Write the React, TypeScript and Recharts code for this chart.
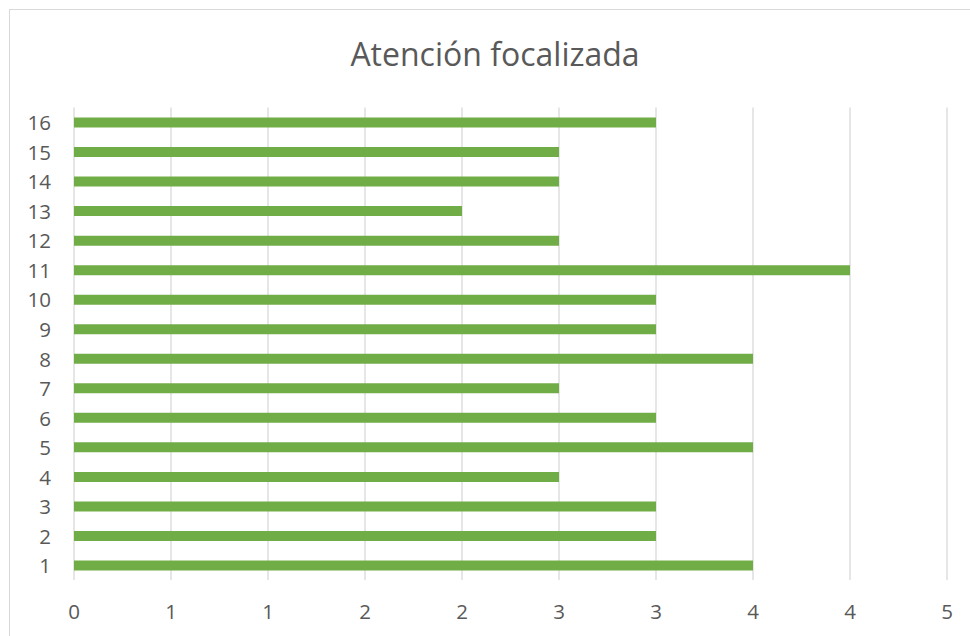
import { Bar, BarChart, CartesianGrid, XAxis, YAxis } from "recharts";

const categories = ["1", "2", "3", "4", "5", "6", "7", "8", "9", "10", "11", "12", "13", "14", "15", "16"];
const values = [3.5, 3, 3, 2.5, 3.5, 3, 2.5, 3.5, 3, 3, 4, 2.5, 2, 2.5, 2.5, 3];
const xTicks = [0, 0.5, 1, 1.5, 2, 2.5, 3, 3.5, 4, 4.5];
const xTickLabels = ["0", "1", "1", "2", "2", "3", "3", "4", "4", "5"];

const data = categories.map((name, i) => ({ name, value: values[i] }));

const FONT = "'Open Sans', 'Liberation Sans', sans-serif";
const TEXT = "#595959";
const TICK_SIZE = 20.5;

const XTick = (props: any) => {
  const { x, y, payload } = props;
  return (
    <text x={x} y={y + 14} textAnchor="middle" fill={TEXT} fontSize={TICK_SIZE} fontFamily={FONT}>
      {xTickLabels[xTicks.indexOf(payload.value)] ?? String(payload.value)}
    </text>
  );
};

const YTick = (props: any) => {
  const { x, y, payload } = props;
  return (
    <text x={x} y={y + 8} textAnchor="end" fill={TEXT} fontSize={TICK_SIZE} fontFamily={FONT}>
      {payload.value}
    </text>
  );
};

export default function App() {
  return (
    <div
      style={{
        position: "fixed",
        left: 0,
        top: 0,
        width: 970,
        height: 636,
        overflow: "hidden",
        background: "#fff",
      }}
    >
      <div
        style={{
          position: "absolute",
          left: 9,
          top: 9,
          width: 972,
          height: 650,
          border: "1px solid #d9d9d9",
          boxSizing: "border-box",
          background: "#fff",
        }}
      >
        <div
          style={{
            position: "absolute",
            left: 0,
            top: 24,
            width: 970,
            textAlign: "center",
            fontFamily: FONT,
            fontSize: 32,
            lineHeight: "40px",
            color: TEXT,
          }}
        >
          Atención focalizada
        </div>
        <BarChart
          width={970}
          height={640}
          data={data}
          layout="vertical"
          margin={{ top: 97.5, right: 33, bottom: 10, left: 0 }}
          barSize={10}
        >
          <CartesianGrid horizontal={false} stroke="#d9d9d9" strokeWidth={1.3} />
          <XAxis
            type="number"
            domain={[0, 4.5]}
            ticks={xTicks}
            interval={0}
            axisLine={false}
            tickLine={false}
            tickSize={0}
            tickMargin={25}
            height={60}
            tick={<XTick />}
          />
          <YAxis
            type="category"
            dataKey="name"
            reversed
            width={64}
            axisLine={false}
            tickLine={false}
            tickSize={0}
            tickMargin={23}
            interval={0}
            tick={<YTick />}
          />
          <Bar dataKey="value" fill="#70ad47" isAnimationActive={false} />
        </BarChart>
      </div>
    </div>
  );
}
